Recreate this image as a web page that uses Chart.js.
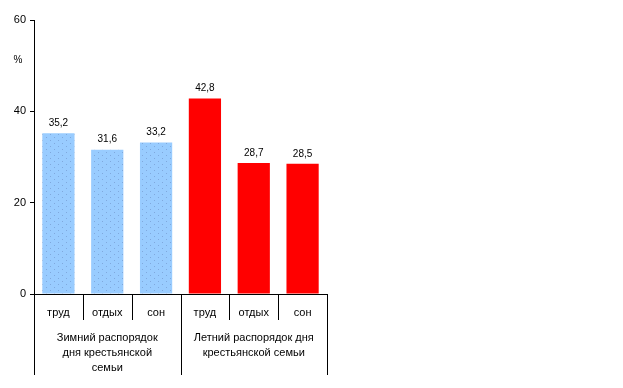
<!DOCTYPE html>
<html><head><meta charset="utf-8">
<script src="https://cdn.jsdelivr.net/npm/chart.js@4/dist/chart.umd.min.js"></script>
<style>html,body{margin:0;padding:0;background:#fff}#wrap{width:623px;height:388px;position:relative}</style>
</head><body><div id="wrap"><canvas id="c" width="623" height="388"></canvas></div>
<script>
const categories = ["труд", "отдых", "сон", "труд", "отдых", "сон"];
const values = [35.2, 31.6, 33.2, 42.8, 28.7, 28.5];
const groups = [["Зимний распорядок", "дня крестьянской", "семьи"], ["Летний распорядок дня", "крестьянской семьи"]];
const groupSizes = [3, 3];
const yTicks = [0, 20, 40, 60];
const unitLabel = "%";

// dotted pattern for winter bars
const pc = document.createElement('canvas'); pc.width = 8; pc.height = 6;
const px = pc.getContext('2d');
px.fillStyle = '#99CCFF'; px.fillRect(0,0,8,6);
px.fillStyle = '#7fa8dd'; px.fillRect(2,2,1,1); px.fillRect(6,5,1,1);
const pattern = px.createPattern(pc, 'repeat');
const colors = values.map((v,i)=> i < groupSizes[0] ? pattern : '#FF0000');

const FONT = '"Liberation Sans", Arial, sans-serif';

const overlay = {
  id: 'overlay',
  afterDraw(chart) {
    const ctx = chart.ctx, xs = chart.scales.x, ys = chart.scales.y, ca = chart.chartArea;
    ctx.save();
    ctx.fillStyle = '#000'; ctx.font = '10px ' + FONT;
    ctx.textAlign = 'center'; ctx.textBaseline = 'middle';
    // data labels
    chart.getDatasetMeta(0).data.forEach((b, i) => {
      ctx.fillText(values[i].toFixed(1).replace('.', ','), b.x, b.y - 10);
    });
    // category labels & separators
    const half = (xs.getPixelForValue(1) - xs.getPixelForValue(0)) / 2;
    ctx.font = '11px ' + FONT;
    ctx.strokeStyle = '#000'; ctx.lineWidth = 1;
    categories.forEach((c, i) => {
      const x = xs.getPixelForValue(i);
      ctx.fillText(c, x, ca.bottom + 19);
    });
    let idx = 0;
    const bounds = [];
    groupSizes.forEach((n, g) => {
      const l = xs.getPixelForValue(idx) - half, r = xs.getPixelForValue(idx + n - 1) + half;
      bounds.push(l); if (g === groupSizes.length - 1) bounds.push(r);
      for (let k = 1; k < n; k++) {
        const sx = Math.round(xs.getPixelForValue(idx + k) - half) + 0.5;
        ctx.beginPath(); ctx.moveTo(sx, ca.bottom); ctx.lineTo(sx, ca.bottom + 26); ctx.stroke();
      }
      const cx = (l + r) / 2;
      groups[g].forEach((line, j) => ctx.fillText(line, cx, ca.bottom + 44 + j * 15));
      idx += n;
    });
    bounds.forEach(b => {
      const sx = Math.round(b) + 0.5;
      ctx.beginPath(); ctx.moveTo(sx, ca.bottom); ctx.lineTo(sx, ca.bottom + 81); ctx.stroke();
    });
    // unit label
    ctx.font = '10px ' + FONT;
    ctx.fillText(unitLabel, 18, 60);
    ctx.restore();
  }
};

new Chart(document.getElementById('c'), {
  type: 'bar',
  data: { labels: categories, datasets: [{ data: values, backgroundColor: colors, borderWidth: 0, barPercentage: 0.66, categoryPercentage: 1 }] },
  options: {
    responsive: false, animation: false, devicePixelRatio: 1,
    layout: { padding: { left: 0, right: 296, top: 20, bottom: 94 } },
    plugins: { legend: { display: false }, tooltip: { enabled: false } },
    scales: {
      x: {
        ticks: { display: false },
        grid: { display: false },
        border: { display: true, color: '#000', width: 1 },
        afterFit(s) { s.height = 0; }
      },
      y: {
        min: 0, max: 60,
        afterBuildTicks(s) { s.ticks = yTicks.map(v => ({ value: v })); },
        ticks: { color: '#000', font: { family: FONT, size: 11 }, padding: 4 },
        grid: { drawOnChartArea: false, tickLength: 4, color: '#000' },
        border: { display: true, color: '#000', width: 1 },
        afterFit(s) { s.width = 34; }
      }
    }
  },
  plugins: [overlay]
});
</script></body></html>
